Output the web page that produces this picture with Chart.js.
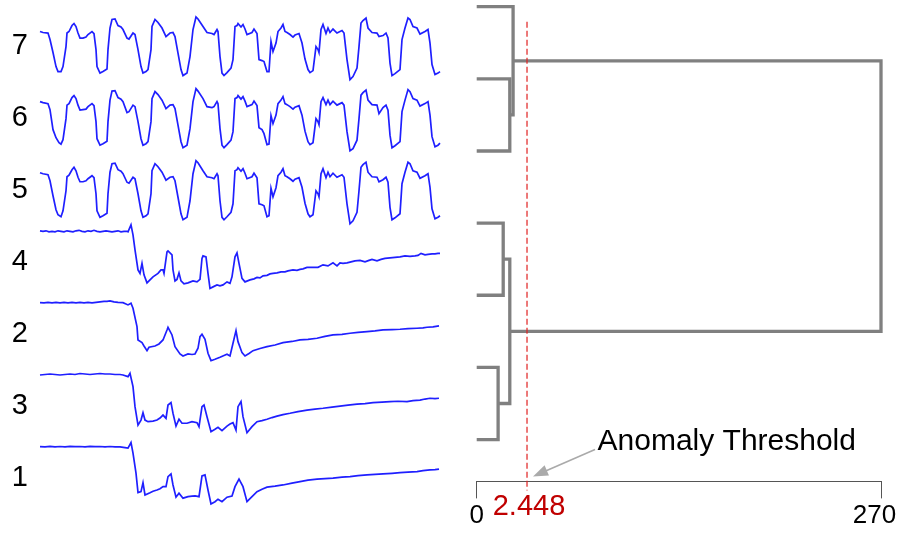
<!DOCTYPE html>
<html>
<head>
<meta charset="utf-8">
<script src="https://cdn.jsdelivr.net/npm/chart.js@4.4.1/dist/chart.umd.min.js"></script>
<style>
  html, body { margin: 0; padding: 0; background: #fff; overflow: hidden; }
  #wrap { position: relative; width: 900px; height: 533px; }
  canvas { position: absolute; top: 0; }
  #left { left: 0; }
  #right { left: 450px; }
</style>
</head>
<body>
<div id="wrap">
  <canvas id="left" width="450" height="533"></canvas>
  <canvas id="right" width="450" height="533"></canvas>
</div>
<script>
// ---- time series, [t, value] pairs, top row first ----
const s7 = [[0,50],[3,49],[8,48.5],[10,42],[13,29],[16,15],[18,10],[21,10],[23,15],[26,35],[27,48.5],[29,50],[32,56],[34,58],[36,55],[38,48.5],[40,43.5],[43,43.5],[46,44.5],[48,47],[52,50],[54,48],[56,32],[57,15],[60,8.5],[63,10],[67,12.5],[68,32],[70,53.5],[72,62],[75,62.5],[78,56],[81,54.5],[83,52],[87,43.5],[89,42.5],[93,48.5],[95,47],[98,32],[101,15],[103,8.5],[106,10],[108,12],[111,32],[112,55],[115,62],[118,59],[122,53.5],[126,45],[130,48.5],[133,49],[135,45],[138,28.5],[141,12],[143,6],[147,8.5],[150,25],[153,52],[156,64.5],[158,62.5],[163,55],[167,49],[172,48],[174,47],[177,52],[178,50],[180,25],[182,8.5],[184,6],[187,9],[191,13.5],[193,22],[195,55],[197,56],[198,58],[201,54.5],[203,57],[205,52.5],[207,47],[212,49],[214,52.5],[217,48],[219,22],[222,21],[224,20],[227,10],[229,10],[231,40],[233,30],[236,38.5],[238,50],[241,53.5],[243,57],[245,50],[247,49],[250,47],[253,44.5],[255,46.5],[259,48],[262,38.5],[265,22.5],[268,12],[270,9],[273,11],[276,35],[278,32],[279,29],[281,52],[283,57],[286,48],[288,53.5],[290,49],[293,52.5],[297,48.5],[302,51],[304,48.5],[307,22],[310,2],[313,5],[317,13.5],[319,35],[321,58.5],[323,61],[326,63.5],[328,53.5],[332,49],[337,48.5],[339,45],[343,46],[346,48.5],[348,43.5],[350,18.5],[352,6],[355,8],[360,12],[362,42],[365,53.5],[368,63.5],[370,62],[373,55],[377,53.5],[380,47.5],[385,50],[388,52],[390,38.5],[392,17],[395,7],[398,8.5],[400,10]];
const s6 = [[0,52],[3,51],[8,50],[10,44],[13,24],[16,16],[19,11],[21,9.5],[23,14],[26,35],[27,48.5],[29,50],[32,56],[34,58],[36,55],[38,48.5],[40,43.5],[43,44],[46,44.5],[48,47],[52,50],[54,48],[56,32],[57,15],[60,8.5],[63,10],[67,12.5],[68,32],[70,53.5],[72,62.5],[75,63],[78,56],[81,54.5],[83,52],[87,41],[89,42],[93,48.5],[95,47],[98,32],[101,15],[103,8.5],[106,10],[108,12],[111,32],[112,55],[115,62],[118,59],[122,53.5],[126,45],[130,48.5],[133,49],[135,45],[138,28.5],[141,12],[143,6],[147,8.5],[150,25],[153,52],[156,65],[158,62.5],[163,55],[167,47],[172,46],[174,47],[177,52],[178,50],[180,25],[182,8.5],[184,6],[187,9],[191,13.5],[193,22],[195,55],[197,56],[198,58],[201,54.5],[203,57],[205,52.5],[207,47],[212,49],[214,52.5],[217,48],[219,26],[222,24],[224,20],[227,9],[229,9.5],[231,38],[233,30],[236,38.5],[238,50],[241,53.5],[243,57],[245,50],[247,49],[250,47],[253,44.5],[255,46.5],[259,48],[262,38.5],[265,22.5],[268,12],[270,9],[273,11],[276,35],[278,32],[279,29],[281,52],[283,56],[286,49],[288,53.5],[290,49],[293,52.5],[297,48.5],[302,51],[304,48.5],[307,22],[310,3],[313,5],[317,13.5],[319,35],[321,58.5],[323,61],[326,63.5],[328,53.5],[332,49],[337,48.5],[339,40],[343,46],[346,48.5],[348,43.5],[350,18.5],[352,6],[355,8],[360,12],[362,42],[365,53.5],[368,64],[370,62],[373,55],[377,53.5],[380,47.5],[385,50],[388,52],[390,38.5],[392,17],[395,7],[398,8.5],[400,10.5]];
const s5 = [[0,53],[3,52],[8,51],[10,45],[13,30],[16,16],[18,11],[21,9],[23,15],[26,35],[27,49],[29,50.5],[32,56],[34,58.5],[36,55],[38,48.5],[40,44],[43,44],[46,45],[48,47],[52,50],[54,48],[56,32],[57,15],[60,8.5],[63,10],[67,12.5],[68,32],[70,53.5],[72,62],[75,62.5],[78,56],[81,54.5],[83,52],[87,43.5],[89,42.5],[93,48.5],[95,47],[98,32],[101,15],[103,8.5],[106,10],[108,12],[111,32],[112,55],[115,62],[118,59],[122,53.5],[126,45.5],[130,48.5],[133,49],[135,45],[138,28.5],[141,12],[143,6],[147,8.5],[150,25],[153,52],[156,65],[158,63],[163,55],[167,49],[172,48],[174,47],[177,52],[178,50],[180,25],[182,8.5],[184,6],[187,9],[191,13.5],[193,22],[195,55],[197,56],[198,58],[201,54.5],[203,57],[205,52.5],[207,47],[212,49],[214,52.5],[217,48],[219,22],[222,21],[224,20],[227,9],[229,10],[231,37.5],[233,29],[236,38],[238,50],[241,53.5],[243,57],[245,50],[247,49],[250,47],[253,44.5],[255,46.5],[259,48],[262,38.5],[265,22.5],[268,12],[270,9],[273,11],[276,35],[278,32],[279,29],[281,52],[283,57],[286,48],[288,53.5],[290,49],[293,52.5],[297,48.5],[302,51],[304,48.5],[307,22],[310,2],[313,5],[317,13.5],[319,35],[321,58.5],[323,61],[326,63.5],[328,53.5],[332,49],[337,48.5],[339,44],[343,46],[346,48.5],[348,43.5],[350,18.5],[352,6],[355,8],[360,12],[362,42],[365,53.5],[368,63.5],[370,62],[373,55],[377,53.5],[380,47.5],[385,50],[388,52],[390,38.5],[392,17],[395,7],[398,8.5],[400,10]];
const s4 = [[0,67],[3,66.5],[6,67],[9,66],[12,66.5],[15,66],[18,67],[21,66.5],[24,66],[27,67],[30,66.5],[33,66],[36,67],[39,67.5],[42,66.5],[45,66],[48,67],[51,66.5],[54,67.5],[57,66.5],[60,66],[63,66.5],[66,67],[69,66.5],[72,66],[75,66.5],[78,67],[81,66],[84,66.5],[87,66.5],[88,66],[91,73],[93,63],[95,48],[98,28],[100,24.5],[102,34.5],[104,23],[107,15],[110,18],[113,21],[118,24.5],[121,28],[123,28],[124,24.5],[127,46],[128,47],[132,43],[133,28],[135,17],[137,18.5],[139,25],[141,17],[144,14],[148,15],[153,17],[157,16],[160,18.5],[162,39.5],[163,42],[166,41],[168,24.5],[170,9.5],[173,11],[177,13],[180,12],[183,13],[187,16],[190,14.5],[192,21],[195,41],[197,45],[199,34.5],[202,19.5],[205,16],[210,18],[214,19],[217,20.5],[220,20],[223,22],[227,22.5],[230,24],[233,24.5],[237,25],[241,26],[245,26],[248,27],[253,28],[257,27.5],[260,28.5],[263,29],[267,30.5],[272,30.5],[278,30.5],[283,33],[288,32],[293,35],[297,32],[300,35],[303,34.5],[307,35],[311,36],[315,37],[320,37.5],[325,36],[329,37.5],[332,38.5],[337,37],[341,38.5],[345,39.5],[350,40],[355,40.5],[360,41],[365,42],[370,41.5],[375,42],[378,42.5],[381,44.5],[385,43],[388,43.5],[392,44],[395,44],[398,44.5],[400,44.5]];
const s2 = [[0,67.3],[4,67],[8,67.5],[12,67],[16,67.5],[20,67],[24,67.5],[28,67],[32,67.5],[36,67],[40,67.5],[44,67],[48,67.5],[52,67],[56,67.5],[60,68],[64,68.5],[67,68.5],[70,69],[74,68],[78,67.5],[83,67.3],[88,65],[91,66.7],[93,61.7],[97,43.3],[98,30],[102,27.3],[104,24],[107,19.3],[109,22.7],[115,24],[119,26],[123,30],[127,40],[128,42.7],[132,35],[135,23.3],[140,16],[143,14],[148,16],[152,15.5],[155,16],[158,21.7],[160,33.3],[162,35.7],[165,30.7],[168,16.7],[171,9.3],[175,10.7],[180,12.7],[184,14.5],[187,15.7],[190,14],[193,26.7],[196,39.3],[198,28.3],[202,17.3],[205,14],[209,16.5],[213,19.3],[220,21.5],[227,23.3],[235,25],[243,27.3],[252,28.5],[260,30],[268,30.5],[277,31.7],[285,33.5],[293,35],[302,35.5],[310,36.7],[318,37.5],[327,38.3],[335,39],[343,40],[352,40.3],[360,40.7],[368,41.3],[377,41.7],[383,42],[387,42.7],[393,43],[396,43.5],[399,44]];
const s3 = [[0,67],[5,67.5],[10,68],[15,67.5],[20,67],[25,67.5],[30,68],[35,67.5],[40,68.5],[45,68],[50,67.5],[55,68],[60,68.5],[65,68],[70,68],[75,67.5],[80,67.5],[83,67],[88,65.4],[90,68.8],[93,55.4],[95,35.4],[98,17],[101,22],[103,29.4],[105,22],[108,20.4],[113,21],[117,22],[120,24],[123,27],[126,23.8],[128,37],[131,39.4],[133,28.8],[136,16],[139,22.8],[142,18.8],[147,18.8],[152,20.4],[157,19.4],[159,15.4],[162,35.4],[164,37],[167,25.4],[171,10.4],[175,12.8],[178,14.8],[182,11.4],[187,16],[190,18],[193,19.4],[196,12],[198,35.4],[201,40.4],[203,25.4],[207,9.4],[212,15.4],[217,20.4],[222,21.5],[227,22.8],[232,24.5],[237,26],[243,27.5],[250,28.8],[258,30.5],[267,32],[275,33],[283,33.8],[292,35],[300,36],[308,37],[317,38],[325,38.5],[333,39.4],[342,40],[350,40.4],[358,40.8],[367,40.4],[373,41.5],[380,42],[385,43],[390,43.8],[395,43.5],[399,43.8]];
const s1 = [[0,67.5],[5,67.2],[10,67.8],[15,67.3],[20,67.6],[25,67.2],[30,67.8],[35,67.4],[40,67.6],[45,67.2],[50,67.8],[55,67.4],[60,67.6],[65,67.2],[70,67.6],[75,67.2],[80,67.2],[85,66.5],[88,66],[91,71.5],[93,61],[96,41],[98,21.5],[101,22.5],[103,31.5],[105,19.2],[110,21.5],[113,23],[117,24.2],[120,25.5],[123,27.5],[126,27.5],[128,37.5],[131,40.2],[133,29.2],[136,17],[139,21],[143,16],[148,17.5],[152,18],[155,18.2],[159,17.5],[162,38.2],[165,39.2],[168,24.2],[171,10.2],[175,12.5],[178,15],[182,12.5],[187,17],[192,18.2],[195,27.5],[199,35],[203,27.5],[207,12.5],[212,17.5],[217,22.5],[222,25],[227,27],[235,28],[243,29.2],[252,31],[260,32.5],[268,34],[277,35],[285,35.5],[293,36],[302,37],[310,37.5],[318,38.5],[327,39.2],[335,39.8],[343,40.2],[352,40.8],[360,41.5],[368,42],[377,42.5],[383,43.5],[390,44.2],[395,44.5],[399,45]];

const seriesNames = ['7', '6', '5', '4', '2', '3', '1'];
const seriesData = [s7, s6, s5, s4, s2, s3, s1];

// ---- dendrogram (leaves top to bottom, merges in linkage order) ----
const leafNames = ['7', '6', '5', '4', '2', '3', '1'];
const linkLeft = [1, 0, 3, 5, 9, 8];
const linkRight = [2, 7, 4, 6, 10, 11];
const linkHeight = [22.1, 24.3, 17.7, 14.3, 22.1, 270];
const axisTicks = [0, 270];
const thresholdPos = 33.6;
const thresholdLabel = '2.448';
const annotationText = 'Anomaly Threshold';

const FONT = '"Liberation Sans", Arial, sans-serif';
Chart.defaults.font.family = FONT;
Chart.defaults.animation = false;

// ---- left: stacked rows of series ----
const rowScales = {};
for (let i = seriesNames.length - 1; i >= 0; i--) {
  const name = seriesNames[i];
  rowScales['y' + i] = {
    type: 'linear', position: 'left', stack: 'rows', stackWeight: 1,
    min: 0, max: 72,
    grid: { display: false, drawTicks: false },
    border: { display: false },
    afterBuildTicks: (axis) => { axis.ticks = [{ value: 36 }]; },
    afterFit: (axis) => { axis.width = 40; axis.paddingTop = 0; axis.paddingBottom = 0; },
    ticks: { padding: 12, color: '#000', font: { size: 29 }, callback: () => name }
  };
}
rowScales.x = { type: 'linear', min: 0, max: 400, display: false };

new Chart(document.getElementById('left'), {
  type: 'scatter',
  data: {
    datasets: seriesData.map((s, i) => ({
      data: s.map(p => ({ x: p[0], y: p[1] })),
      yAxisID: 'y' + i,
      showLine: true,
      borderColor: '#1f1fff',
      borderWidth: 1.7,
      pointRadius: 0,
      tension: 0,
      clip: false
    }))
  },
  options: {
    responsive: false,
    layout: { padding: { top: 9.5, bottom: 18.8, right: 10, left: 0 } },
    plugins: { legend: { display: false }, tooltip: { enabled: false } },
    scales: rowScales
  }
});

// ---- right: dendrogram ----
const nodePos = leafNames.map((_, i) => i);
const nodeH = leafNames.map(() => 0);
const links = linkLeft.map((a, k) => {
  const b = linkRight[k], h = linkHeight[k];
  const pts = [
    { x: nodeH[a], y: nodePos[a] }, { x: h, y: nodePos[a] },
    { x: h, y: nodePos[b] }, { x: nodeH[b], y: nodePos[b] }
  ];
  nodePos.push((nodePos[a] + nodePos[b]) / 2);
  nodeH.push(h);
  return pts;
});

const thresholdPlugin = {
  id: 'threshold',
  afterDatasetsDraw(chart) {
    const { ctx, chartArea, scales: { x } } = chart;
    const px = x.getPixelForValue(thresholdPos);
    const b = chartArea.bottom;
    ctx.save();
    ctx.strokeStyle = '#e02020';
    ctx.lineWidth = 1.2;
    ctx.setLineDash([6, 3]);
    ctx.beginPath();
    ctx.moveTo(px, chartArea.top + 15);
    ctx.lineTo(px, b + 9);
    ctx.stroke();
    ctx.setLineDash([]);

    ctx.fillStyle = '#c00000';
    ctx.font = '29px ' + FONT;
    ctx.textAlign = 'center';
    ctx.textBaseline = 'alphabetic';
    ctx.fillText(thresholdLabel, px + 2, b + 34);

    // arrow from the annotation text to the threshold
    const tipX = px + 6, tipY = b - 5;
    const tailX = px + 68, tailY = b - 32;
    const ang = Math.atan2(tipY - tailY, tipX - tailX);
    ctx.strokeStyle = '#aaaaaa';
    ctx.fillStyle = '#aaaaaa';
    ctx.lineWidth = 1.6;
    ctx.beginPath();
    ctx.moveTo(tailX, tailY);
    ctx.lineTo(tipX - 10 * Math.cos(ang), tipY - 10 * Math.sin(ang));
    ctx.stroke();
    ctx.beginPath();
    ctx.moveTo(tipX, tipY);
    ctx.lineTo(tipX - 15 * Math.cos(ang) + 5.5 * Math.sin(ang), tipY - 15 * Math.sin(ang) - 5.5 * Math.cos(ang));
    ctx.lineTo(tipX - 15 * Math.cos(ang) - 5.5 * Math.sin(ang), tipY - 15 * Math.sin(ang) + 5.5 * Math.cos(ang));
    ctx.closePath();
    ctx.fill();

    ctx.fillStyle = '#000';
    ctx.font = '30px ' + FONT;
    ctx.textAlign = 'left';
    ctx.fillText(annotationText, px + 70.5, b - 31);
    ctx.restore();
  }
};

new Chart(document.getElementById('right'), {
  type: 'scatter',
  data: {
    datasets: links.map(pts => ({
      data: pts,
      showLine: true,
      borderColor: '#808080',
      borderWidth: 3.3,
      borderJoinStyle: 'miter',
      pointRadius: 0,
      tension: 0,
      clip: false
    }))
  },
  options: {
    responsive: false,
    layout: { padding: { top: 6.7, left: 26.7, right: 0, bottom: 0 } },
    plugins: { legend: { display: false }, tooltip: { enabled: false } },
    scales: {
      x: {
        type: 'linear', min: 0, max: 270,
        afterBuildTicks: (axis) => { axis.ticks = axisTicks.map(v => ({ value: v })); },
        afterFit: (axis) => { axis.paddingRight = 19; },
        grid: { drawOnChartArea: false, drawTicks: true, tickLength: 17, color: '#555', lineWidth: 1 },
        border: { display: true, color: '#555', width: 1 },
        ticks: {
          color: '#000', padding: 3, maxRotation: 0, font: { size: 26, lineHeight: 1.1 },
          // last label sits a little left of its tick, as in the source figure
          callback: (v, i, t) => (i === t.length - 1 ? v + '\u2002' : String(v))
        }
      },
      y: { type: 'linear', min: 0, max: 6.58, reverse: true, display: false }
    }
  },
  plugins: [thresholdPlugin]
});
</script>
</body>
</html>
